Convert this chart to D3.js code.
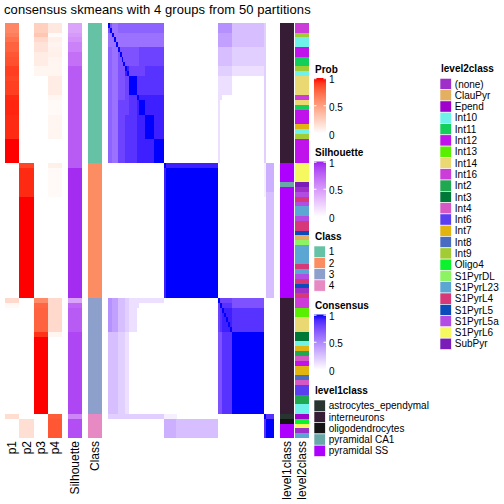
<!DOCTYPE html>
<html><head><meta charset="utf-8">
<script src="https://cdn.jsdelivr.net/npm/d3@7"></script>
<style>
body{margin:0;background:#fff}
svg{display:block}
text{font-family:"Liberation Sans",Arial,Helvetica,sans-serif;fill:#000}
</style>
</head><body>
<svg id="chart" width="504" height="504"></svg>
<script>
// ---------------- data ----------------
const titleText = "consensus skmeans with 4 groups from 50 partitions";
const probNames = ["p1","p2","p3","p4"];

// membership probabilities per sample (86 samples, ordered as in the heatmap)
const p1 = [0.62,0.62,0.66,0.72,0.78,0.78,0.82,0.84,0.85,0.9,0.9,0.88,0.9,0.9,0.9,0.95,0.96,0.96,0.96,0.95,0.95,0.95,0.95,0.95,1,1,1,1,1,
  0,0,0,0,0,0,0,0,0,0,0,0,0,0,0,0,0,0,0,0,0,0,0,0,0,0,0,0,
  0.2,0.04,0,0,0,0,0,0,0,0,0,0,0,0,0,0,0,0,0,0,0,0,0,0,
  0.18,0,0,0,0];
const p2 = [0,0,0,0,0,0,0,0,0,0,0,0,0,0,0,0,0,0,0,0,0,0,0,0,0,0,0,0,0,
  0.88,0.95,0.95,0.95,0.95,0.95,0.95,1,1,1,1,1,1,1,1,1,1,1,1,1,1,1,1,1,1,1,1,1,
  0,0,0,0,0,0,0,0,0,0,0,0,0,0,0,0,0,0,0,0,0,0,0,0,
  0,0.17,0.17,0.17,0.17];
const p3 = [0.25,0.25,0.3,0.2,0.15,0.15,0.1,0.1,0.1,0.05,0.05,0,0,0,0,0,0,0,0,0,0,0,0,0,0,0,0,0,0,
  0,0,0,0,0,0,0,0,0,0,0,0,0,0,0,0,0,0,0,0,0,0,0,0,0,0,0,0,
  0.6,0.76,0.78,0.78,0.78,0.78,0.78,0.93,1,1,1,1,1,1,1,1,1,1,1,1,1,1,1,1,
  0,0,0,0,0];
const p4 = [0.12,0.12,0.02,0.08,0.06,0.07,0.08,0.06,0.05,0.05,0.05,0.1,0.1,0.1,0.1,0.05,0.03,0.03,0.03,0.05,0.05,0.05,0.05,0.05,0,0,0,0,0,
  0.08,0.03,0.03,0.03,0.03,0.03,0.03,0,0,0,0,0,0,0,0,0,0,0,0,0,0,0,0,0,0,0,0,0,
  0.2,0.2,0.2,0.2,0.2,0.2,0.2,0.05,0,0,0,0,0,0,0,0,0,0,0,0,0,0,0,0,
  0.8,0.82,0.82,0.82,0.82];
const silhouette = [0.45,0.45,0.5,0.55,0.62,0.62,0.7,0.7,0.7,0.8,0.8,0.8,0.8,0.8,0.8,0.8,0.8,0.8,0.8,0.8,0.8,0.8,0.8,0.8,0.8,0.8,0.8,0.8,0.8,
  0.8,0.97,0.97,0.97,0.97,0.97,0.97,0.97,0.97,0.97,0.97,0.97,0.97,0.97,0.97,0.97,0.97,0.97,0.97,0.97,0.97,0.97,0.97,0.97,0.97,0.97,0.97,0.97,
  0.45,0.75,0.8,0.8,0.8,0.8,0.8,0.88,0.88,0.88,0.88,0.88,0.88,0.88,0.88,0.88,0.88,0.88,0.88,0.88,0.88,0.88,0.88,0.88,
  0.6,0.85,0.85,0.85,0.85];
const sampleClass = [1,1,1,1,1,1,1,1,1,1,1,1,1,1,1,1,1,1,1,1,1,1,1,1,1,1,1,1,1,
  2,2,2,2,2,2,2,2,2,2,2,2,2,2,2,2,2,2,2,2,2,2,2,2,2,2,2,2,
  3,3,3,3,3,3,3,3,3,3,3,3,3,3,3,3,3,3,3,3,3,3,3,3,
  4,4,4,4,4];

const classLabels = ["1","2","3","4"];
const classColors = ["#66C2A5","#FC8D62","#8DA0CB","#E78AC3"];

const level1Labels = ["astrocytes_ependymal","interneurons","oligodendrocytes","pyramidal CA1","pyramidal SS"];
const level1Colors = ["#28342f","#361c35","#141414","#6aa7a9","#ad00ff"];
const level1 = [1,1,1,1,1,1,1,1,1,1,1,1,1,1,1,1,1,1,1,1,1,1,1,1,1,1,1,1,1,
  4,4,4,4,3,4,4,4,4,4,4,4,4,4,4,4,4,4,4,4,4,4,4,4,4,4,4,4,
  1,1,1,1,1,1,1,1,1,1,1,1,1,1,1,1,1,1,1,1,1,1,1,1,
  0,2,4,4,4];

const level2Labels = ["(none)","ClauPyr","Epend","Int10","Int11","Int12","Int13","Int14","Int16","Int2","Int3","Int4","Int6","Int7","Int8","Int9","Oligo4","S1PyrDL","S1PyrL23","S1PyrL4","S1PyrL5","S1PyrL5a","S1PyrL6","SubPyr"];
const level2Colors = ["#9f2fc9","#e2b060","#a000cc","#6ef2ea","#12cf5c","#c012ea","#58f000","#ead872","#cc3cd8","#20a850","#007838","#d658c4","#5a3ff0","#e2b410","#4a6cc0","#a2cc34","#0cf22c","#8cf462","#5ca6d4","#d63878","#0c4cba","#b24ce2","#f6f860","#7a1cb8"];
const level2 = [8,8,15,3,3,5,5,4,4,15,3,7,7,7,7,8,7,4,5,5,5,13,3,15,5,5,5,5,5,
  22,22,22,22,23,0,21,19,21,18,18,21,19,19,20,1,17,18,18,18,18,19,18,21,19,20,0,19,
  8,8,6,6,7,7,7,10,10,3,13,9,11,5,13,13,14,11,12,12,9,9,3,3,
  2,16,22,0,18];

// consensus matrix rows, run-length encoded hex digits (value = digit/15);
// each entry: [number of identical rows, row]
const consensusRows = [
  [1,"f b 9*3 a*24 | 0*28 | 7*7 4*17 | 3 0*4"],
  [1,"b f 9*3 a*24 | 0*28 | 7*7 4*17 | 3 0*4"],
  [1,"9*2 f 9*26 | 0*28 | 6*7 4*17 | 3 0*4"],
  [1,"9*3 f 9*25 | 0*28 | 6*7 4*17 | 3 0*4"],
  [1,"9*4 f 9*24 | 0*28 | 6*7 4*17 | 3 0*4"],
  [1,"a*2 9*3 f b*10 c*13 | 0*28 | 4*7 3*17 | 3 0*4"],
  [1,"a*2 9*3 b f b*9 c*13 | 0*28 | 4*7 3*17 | 3 0*4"],
  [1,"a*2 9*3 b*2 f b*8 c*13 | 0*28 | 4*7 3*17 | 3 0*4"],
  [1,"a*2 9*3 b*3 f b*7 c*13 | 0*28 | 4*7 3*17 | 3 0*4"],
  [1,"a*2 9*3 b*4 f e c*8 d*10 | 0*28 | 3*7 2*17 | 3 0*4"],
  [1,"a*2 9*3 b*4 e f c*8 d*10 | 0*28 | 3*7 2*17 | 3 0*4"],
  [4,"a*2 9*3 b*4 c*2 f*4 d*14 | 0*28 | 2*7 0*17 | 3 0*4"],
  [1,"a*2 9*3 b*4 c*2 d*4 f e*13 | 0*28 | 2*2 0*22 | 3 0*4"],
  [3,"a*2 9*3 c*6 d*4 e f*3 e*10 | 0*28 | 2 0*23 | 3 0*4"],
  [5,"a*2 9*3 c*4 d*6 e*4 f*5 e*5 | 0*28 | 2 0*23 | 3 0*4"],
  [5,"a*2 9*3 c*4 d*6 e*9 f*5 | 0*28 | 2 0*23 | 3 0*4"],
  [1,"0*29 | f e*27 | 0*24 | 1 5*4"],
  [5,"0*29 | e f*27 | 0*24 | 1 5*4"],
  [1,"0*29 | e f*27 | 0*24 | 1 4*4"],
  [21,"0*29 | e f*27 | 0*24 | 0 4*4"],
  [1,"7*2 6*3 4*4 3*2 2*18 | 0*28 | f c*6 b*17 | 0*5"],
  [1,"7*2 6*3 4*4 3*2 2*5 0*13 | 0*28 | c f d*5 b*17 | 0*5"],
  [1,"7*2 6*3 4*4 3*2 2*4 0*14 | 0*28 | c d f e*4 d*17 | 0*5"],
  [1,"7*2 6*3 4*4 3*2 2*4 0*14 | 0*28 | c d e f e*3 d*17 | 0*5"],
  [1,"7*2 6*3 4*4 3*2 2*4 0*14 | 0*28 | c d e*2 f e*2 d*17 | 0*5"],
  [1,"7*2 6*3 4*4 3*2 2*4 0*14 | 0*28 | c d e*3 f e d*17 | 0*5"],
  [1,"7*2 6*3 4*4 3*2 2*4 0*14 | 0*28 | c d e*4 f d*17 | 0*5"],
  [17,"4*5 3*4 2*2 0*18 | 0*28 | b*2 d*5 f*17 | 0*5"],
  [1,"3*29 | 1*7 0*21 | 0*24 | f d*4"],
  [4,"0*29 | 5*6 4*22 | 0*24 | d f*4"]
];

// ---------------- decode ----------------
function decodeRow(s){
  const out = [];
  s.split(/\s+/).filter(t => t && t !== "|").forEach(t => {
    const [v, n] = t.split("*");
    const val = parseInt(v, 16) / 15;
    const k = n ? +n : 1;
    for (let i = 0; i < k; i++) out.push(val);
  });
  return out;
}
const consensus = [];
consensusRows.forEach(([rep, s]) => { const r = decodeRow(s); for (let i = 0; i < rep; i++) consensus.push(r); });

const N = sampleClass.length;
const probs = [p1, p2, p3, p4];

// ---------------- drawing ----------------
const svg = d3.select("#chart");
const FONT = 10;

const y = d3.scaleBand().domain(d3.range(N)).range([23, 438]);
const xc = d3.scaleBand().domain(d3.range(N)).range([108, 274]);
const xp = d3.scaleBand().domain(probNames).range([5, 62]);
const annTracks = ["Silhouette","Class","level1class","level2class"];
const xa = d3.scaleOrdinal().domain(annTracks).range([68, 88, 280, 295]);
const annW = 14;

const probColor = d3.scaleLinear().domain([0,1]).range(["#ffffff","#ff0000"]).interpolate(d3.interpolateLab);
const silColor = d3.scaleLinear().domain([0,1]).range(["#ffffff","#a020f0"]).interpolate(d3.interpolateLab);
const consColor = d3.scaleLinear().domain([0,1]).range(["#ffffff","#0000ff"]).interpolate(d3.interpolateLab);
const classColor = d3.scaleOrdinal().domain(classLabels).range(classColors);
const l1Color = d3.scaleOrdinal().domain(level1Labels).range(level1Colors);
const l2Color = d3.scaleOrdinal().domain(level2Labels).range(level2Colors);

// title
svg.append("text").attr("x", 4).attr("y", 14).attr("font-size", 13).attr("letter-spacing", 0.08).text(titleText);

const cells = svg.append("g").attr("shape-rendering", "crispEdges");

// prob columns
probNames.forEach((nm, j) => {
  cells.append("g").selectAll("rect").data(probs[j]).join("rect")
    .attr("x", xp(nm)).attr("width", xp.bandwidth())
    .attr("y", (d, i) => y(i)).attr("height", y.bandwidth())
    .attr("fill", d => probColor(d));
});
// silhouette
cells.append("g").selectAll("rect").data(silhouette).join("rect")
  .attr("x", xa("Silhouette")).attr("width", annW)
  .attr("y", (d, i) => y(i)).attr("height", y.bandwidth())
  .attr("fill", d => silColor(d));
// class
cells.append("g").selectAll("rect").data(sampleClass).join("rect")
  .attr("x", xa("Class")).attr("width", annW)
  .attr("y", (d, i) => y(i)).attr("height", y.bandwidth())
  .attr("fill", d => classColor(String(d)));
// consensus heatmap
consensus.forEach((row, i) => {
  cells.append("g").selectAll("rect").data(row).join("rect")
    .attr("x", (d, j) => xc(j)).attr("width", xc.bandwidth())
    .attr("y", y(i)).attr("height", y.bandwidth())
    .attr("fill", d => consColor(d));
});
// level1 / level2
cells.append("g").selectAll("rect").data(level1).join("rect")
  .attr("x", xa("level1class")).attr("width", annW)
  .attr("y", (d, i) => y(i)).attr("height", y.bandwidth())
  .attr("fill", d => l1Color(level1Labels[d]));
cells.append("g").selectAll("rect").data(level2).join("rect")
  .attr("x", xa("level2class")).attr("width", annW)
  .attr("y", (d, i) => y(i)).attr("height", y.bandwidth())
  .attr("fill", d => l2Color(level2Labels[d]));

// bottom labels
const bottom = [
  ...probNames.map(n => [n, xp(n) + xp.bandwidth()/2]),
  ...annTracks.map(n => [n, xa(n) + annW/2])
];
svg.append("g").selectAll("text").data(bottom).join("text")
  .attr("transform", d => `translate(${d[1]},441) rotate(-90)`)
  .attr("text-anchor", "end").attr("dy", "0.35em").attr("font-size", 12)
  .text(d => d[0]);

// ---------------- legends ----------------
const defs = svg.append("defs");
const leg = svg.append("g");
const legX = 314, barW = 12, barH = 55.5, gridS = 11.3;

function colorbar(id, title, top, scale){
  leg.append("text").attr("x", legX + 1).attr("y", top - 5.5).attr("font-size", FONT).attr("font-weight", "bold").text(title);
  const gr = defs.append("linearGradient").attr("id", id).attr("x1", 0).attr("y1", 0).attr("x2", 0).attr("y2", 1);
  d3.range(0, 1.0001, 0.1).forEach(t => gr.append("stop").attr("offset", t).attr("stop-color", scale(1 - t)));
  leg.append("rect").attr("x", legX).attr("y", top).attr("width", barW).attr("height", barH).attr("fill", `url(#${id})`);
  const ys = d3.scaleLinear().domain([0, 1]).range([top + barH, top]);
  [0, 0.5, 1].forEach(v => {
    const yy = ys(v) + (v === 1 ? 0.7 : v === 0 ? -0.7 : 0);
    leg.append("line").attr("x1", legX).attr("x2", legX + 2.5).attr("y1", yy).attr("y2", yy).attr("stroke", "#fff").attr("stroke-width", 1);
    leg.append("line").attr("x1", legX + barW - 2.5).attr("x2", legX + barW).attr("y1", yy).attr("y2", yy).attr("stroke", "#fff").attr("stroke-width", 1);
    leg.append("text").attr("x", legX + barW + 3).attr("y", ys(v) + 5).attr("font-size", FONT).text(String(v));
  });
}
function discrete(title, x, top, labels, scale){
  leg.append("text").attr("x", x + 1).attr("y", top - 6).attr("font-size", FONT).attr("font-weight", "bold").text(title);
  const gg = leg.append("g");
  gg.selectAll("rect").data(labels).join("rect")
    .attr("x", x).attr("y", (d, i) => top + i * gridS).attr("width", gridS).attr("height", gridS)
    .attr("fill", d => scale(d)).attr("stroke", "#fff").attr("stroke-width", 0.6);
  gg.selectAll("text").data(labels).join("text")
    .attr("x", x + gridS + 3.5).attr("y", (d, i) => top + i * gridS + gridS/2 + 3.6)
    .attr("font-size", FONT).text(d => d);
}
colorbar("gProb", "Prob", 78, probColor);
colorbar("gSil", "Silhouette", 161.5, silColor);
discrete("Class", legX, 246, classLabels, classColor);
colorbar("gCons", "Consensus", 314.5, consColor);
discrete("level1class", legX, 400, level1Labels, l1Color);
discrete("level2class", 440, 78.3, level2Labels, l2Color);
</script>
</body></html>
